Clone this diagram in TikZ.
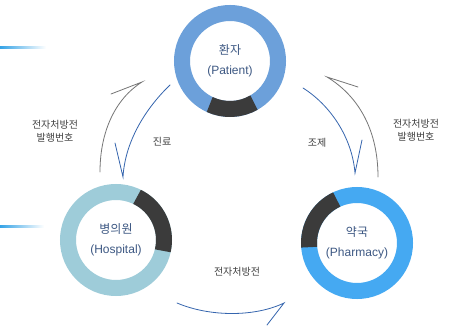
\documentclass[tikz,border=0pt]{standalone}
\usepackage{fontspec}
\setmainfont{Noto Sans CJK KR}
\newfontfamily\latf{Liberation Sans}
\definecolor{patc}{HTML}{6CA0DA}
\definecolor{hosc}{HTML}{9ECCD9}
\definecolor{phac}{HTML}{45A9F2}
\definecolor{darkc}{HTML}{3B3B3B}
\definecolor{namec}{HTML}{3D5883}
\definecolor{labc}{HTML}{404040}
\definecolor{arrb}{HTML}{3565AE}
\definecolor{arrg}{HTML}{767676}
\definecolor{linec}{HTML}{35A3E6}
\begin{document}
\begin{tikzpicture}[x=1pt,y=1pt,
  ring/.style={circle, line width=16pt, minimum size=96pt, inner sep=0pt, align=center,
    text=namec, font=\fontsize{12}{20}\selectfont},
  darkseg/.style={draw=darkc, line width=16pt},
  lab/.style={text=labc, align=center, font=\fontsize{10}{13.5}\selectfont},
  arrblue/.style={draw=arrb, line width=0.8pt, line cap=round},
  arrgray/.style={draw=arrg, line width=0.8pt, line cap=round}]
\useasboundingbox (0,0) rectangle (452,327);
\fill[white] (0,0) rectangle (452,327);
% left gradient lines
\shade[left color=linec, right color=white] (0,278) rectangle (46,280);
\shade[left color=linec, right color=white] (0,100) rectangle (44,102);
% circles
\node[ring, draw=patc] (pat) at (230,266) {환자\\{\latf (Patient)}};
\node[ring, draw=hosc] (hos) at (116,87) {병의원\\{\latf (Hospital)}};
\node[ring, draw=phac] (pha) at (357,84) {약국\\{\latf (Pharmacy)}};
\draw[darkseg] (pat.center) ++(245:48) arc[start angle=245, end angle=300, radius=48];
\draw[darkseg] (hos.center) ++(-13:48) arc[start angle=-13, end angle=64, radius=48];
\draw[darkseg] (pha.center) ++(115:48) arc[start angle=115, end angle=185, radius=48];
% arrow coordinates
\coordinate (lgS) at (100,155);
\coordinate (lgT) at (142,245);
\coordinate (lgB) at (111,233);
\coordinate (lbS) at (170,242);
\coordinate (lbT) at (123,150);
\coordinate (lbB) at (115,184);
\coordinate (rbS) at (303,239);
\coordinate (rbT) at (355,154);
\coordinate (rbB) at (362,187);
\coordinate (rgS) at (378,150);
\coordinate (rgT) at (327,250);
\coordinate (rgB) at (358,240);
\coordinate (bS) at (177,24);
\coordinate (bT) at (284,24);
\coordinate (bB) at (267,2);
% arrows
\draw[arrgray] (lgS) .. controls (100,195) and (115,228) .. (lgT) -- (lgB);
\draw[arrblue] (lbS) .. controls (145,218) and (125,185) .. (lbT) -- (lbB);
\draw[arrblue] (rbS) .. controls (330,222) and (352,190) .. (rbT) -- (rbB);
\draw[arrgray] (rgS) .. controls (378,195) and (360,230) .. (rgT) -- (rgB);
\draw[arrblue] (bS) .. controls (210,10) and (255,10) .. (bT) -- (bB);
% labels
\node[lab] (l1) at (55,196) {전자처방전\\발행번호};
\node[lab] (l2) at (162,185) {진료};
\node[lab] (l3) at (317,184) {조제};
\node[lab] (l4) at (416,197) {전자처방전\\발행번호};
\node[lab] (l5) at (237,55) {전자처방전};
\end{tikzpicture}
\end{document}
